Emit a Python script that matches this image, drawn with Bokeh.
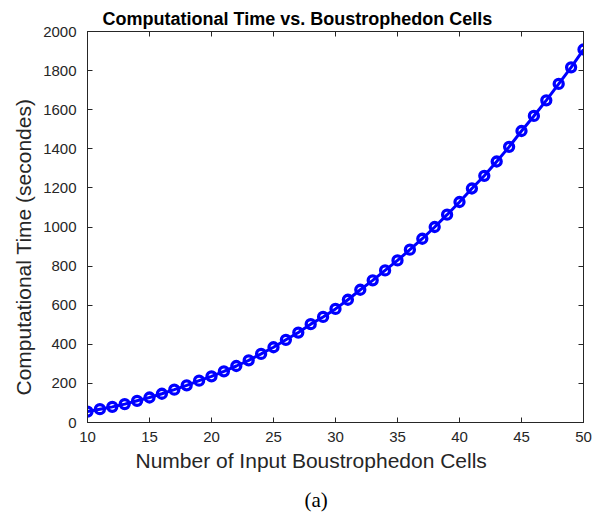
from bokeh.plotting import figure
from bokeh.models import LinearAxis, FixedTicker, Title, ColumnDataSource
from bokeh.embed import file_html
from bokeh.resources import INLINE

# ---- data ----
cells = list(range(10, 51))
comp_time = [56, 68, 80, 94, 111,
             128, 147, 168, 190, 214,
             236, 262, 289, 318, 351,
             385, 423, 460, 503, 540,
             581, 628, 679, 727, 778,
             829, 884, 940, 1000, 1063,
             1128, 1197, 1262, 1335, 1410,
             1491, 1568, 1648, 1732, 1817,
             1908]
x_ticks = [10, 15, 20, 25, 30, 35, 40, 45, 50]
y_ticks = [0, 200, 400, 600, 800, 1000, 1200, 1400, 1600, 1800, 2000]

title_text = "Computational Time vs. Boustrophedon Cells"
x_label = "Number of Input Boustrophedon Cells"
y_label = "Computational Time (secondes)"
caption = "(a)"

AX = "#262626"
FONT = "Liberation Sans"

src = ColumnDataSource(dict(x=cells, y=comp_time))

p = figure(width=598, height=514, x_range=(10, 50), y_range=(0, 2000),
           output_backend="svg", toolbar_location=None,
           min_border_left=87, min_border_right=15,
           min_border_top=31, min_border_bottom=92)

p.title = Title(text=title_text, align="left", offset=15, standoff=6,
                text_font=FONT, text_font_size="18px", text_font_style="bold",
                text_color="black")

p.grid.visible = False
p.outline_line_color = AX
p.background_fill_color = "white"
p.border_fill_color = "white"

def style(ax, labels=True):
    ax.axis_line_color = AX
    ax.axis_line_width = 1
    ax.major_tick_line_color = AX
    ax.major_tick_in = 5
    ax.major_tick_out = 0
    ax.minor_tick_line_color = None
    if labels:
        ax.major_label_text_font = FONT
        ax.major_label_text_font_size = "15px"
        ax.major_label_text_color = AX
    else:
        ax.major_label_text_font_size = "0px"
        ax.major_label_standoff = 0

p.xaxis.ticker = FixedTicker(ticks=x_ticks)
p.yaxis.ticker = FixedTicker(ticks=y_ticks)
style(p.xaxis[0])
style(p.yaxis[0])
p.xaxis.major_label_standoff = 9
p.yaxis.major_label_standoff = 11

top_ax = LinearAxis(ticker=FixedTicker(ticks=x_ticks))
right_ax = LinearAxis(ticker=FixedTicker(ticks=y_ticks))
style(top_ax, labels=False)
style(right_ax, labels=False)
top_ax.major_label_overrides = {t: "" for t in x_ticks}
right_ax.major_label_overrides = {t: "" for t in y_ticks}
p.add_layout(top_ax, "above")
p.add_layout(right_ax, "right")

xl = Title(text=x_label, align="left", offset=48, standoff=4,
           text_font=FONT, text_font_size="21px", text_font_style="normal",
           text_color=AX)
p.add_layout(xl, "below")
cap = Title(text=caption, align="left", offset=217, standoff=0,
            vertical_align="top",
            padding=dict(left=0, right=0, top=14, bottom=0),
            text_font="Liberation Serif", text_font_size="21px",
            text_font_style="normal", text_color="black")
p.add_layout(cap, "below")
yl = Title(text=y_label, align="left", offset=27, standoff=12,
           text_font=FONT, text_font_size="21px", text_font_style="normal",
           text_color=AX)
p.add_layout(yl, "left")

p.line("x", "y", source=src, line_color="blue", line_width=3)
p.scatter("x", "y", source=src, marker="circle", size=9, line_width=3.3,
          line_color="blue", fill_color=None)

open("out.html", "w").write(file_html(p, INLINE))
